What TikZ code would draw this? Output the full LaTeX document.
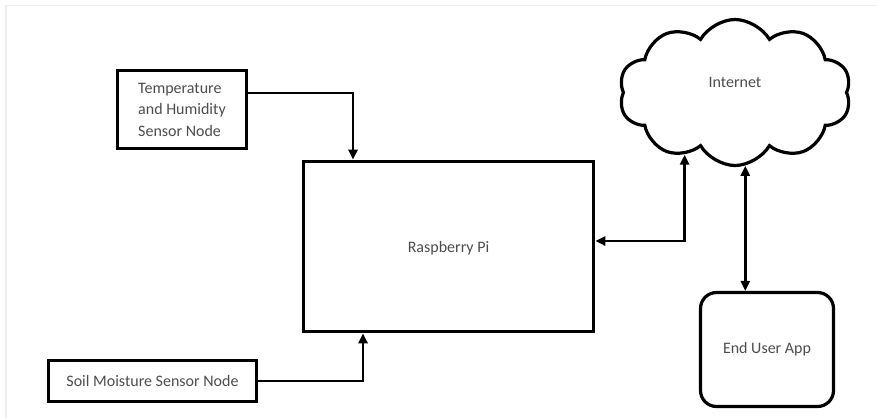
\documentclass[tikz,border=0pt]{standalone}
\usepackage{fontspec}
\setmainfont{Carlito}
\usetikzlibrary{arrows.meta,shapes.symbols}

\begin{document}
\begin{tikzpicture}[x=1pt,y=-1pt,
    box/.style={draw,line width=3.6pt,rectangle,align=left,text=black!70,font=\fontsize{16}{21.5}\selectfont},
    appbox/.style={box,line width=3.2pt,rounded corners=16pt},
    netcloud/.style={draw,line width=3.2pt,cloud,cloud puffs=10,cloud puff arc=120,aspect=1.6,
        minimum width=232pt,minimum height=146pt,text depth=20pt,text=black!70,font=\fontsize{16}{19}\selectfont},
    link/.style={line width=2.8pt,-{Triangle[length=10pt,width=9pt]}},
    dlink/.style={line width=2.8pt,{Triangle[length=10pt,width=9pt]}-{Triangle[length=10pt,width=9pt]}}]
      \useasboundingbox (0,0) rectangle (877,418);
      % faint frame of the screenshot
      \draw[gray!15,line width=1.5pt] (5,5.5)--(877,5.5);
      \draw[gray!15,line width=1.5pt] (6,5)--(6,418);
      % blocks
      \node[box,minimum width=129pt,minimum height=78pt] (temp) at (182,109.5) {Temperature\\and Humidity\\Sensor Node};
      \node[box,minimum width=290pt,minimum height=170pt,text depth=-6pt] (pi) at (448.5,246.5) {Raspberry Pi};
      \node[box,minimum width=208pt,minimum height=41pt] (soil) at (152.5,381) {Soil Moisture Sensor Node};
      \node[appbox,minimum width=133pt,minimum height=114pt] (app) at (767,349.5) {End User App};
      \node[netcloud] (internet) at (735,92.5) {Internet};
      % connections
      \draw[link] ([yshift=16.5pt]temp.east) -| ([xshift=-95.5pt]pi.north);
      \draw[link] (soil.east) -| ([xshift=-85.5pt]pi.south);
      \draw[dlink] (internet.231) |- ([yshift=5.5pt]pi.east);
      \draw[dlink] (internet.278) -- (app.north -| internet.278);
\end{tikzpicture}
\end{document}
